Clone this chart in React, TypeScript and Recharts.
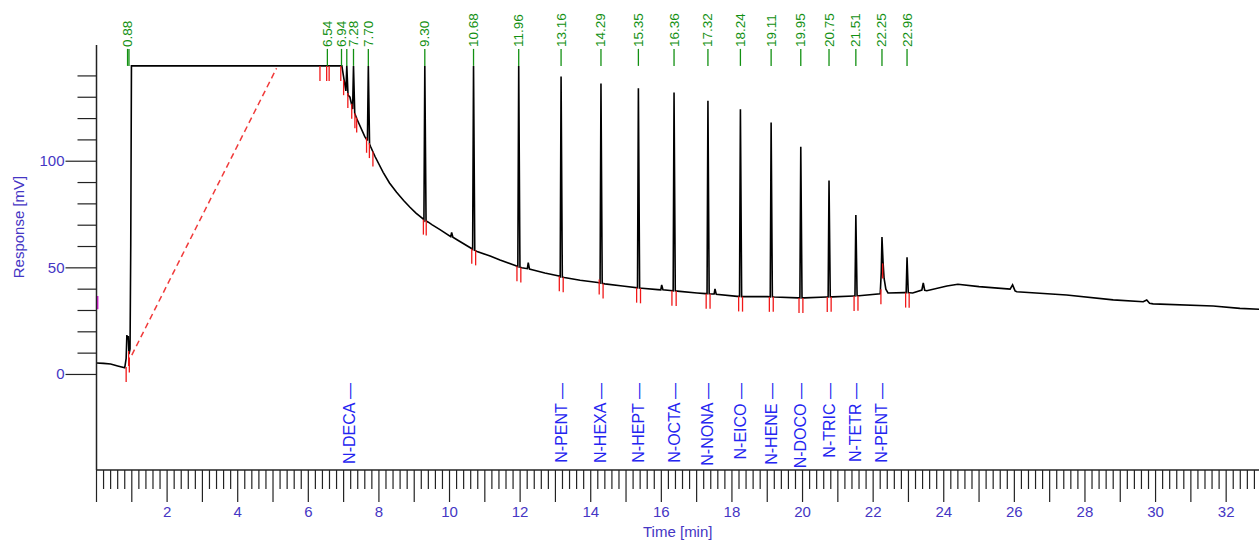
import React from 'react';
import { ComposedChart, Line, Scatter, XAxis, YAxis, ReferenceLine } from 'recharts';

// ---- chromatogram backbone (baseline / solvent front / drift)
const traceTimes = [
  0.0, 0.2, 0.4, 0.6, 0.8, 0.84, 0.86, 0.88, 0.9, 0.92, 0.95, 0.97, 0.99,
  6.95, 7.0, 7.04, 7.18, 7.37, 7.6, 7.66, 7.76, 7.89, 8.12, 8.3, 8.5, 8.7, 8.88, 9.05, 9.25, 9.4,
  9.5, 9.73, 10.2, 10.6, 10.78, 11.15, 11.43, 11.88, 12.05, 12.37, 12.7, 13.1, 13.25,
  13.7, 14.2, 14.4, 14.9, 15.45, 15.9, 16.25, 16.45, 17.01, 17.25, 17.45, 18.15,
  18.35, 19.0, 19.2, 19.88, 20.05, 20.68, 20.85, 21.45, 21.6, 22.2, 22.23, 22.25,
  22.28, 22.31, 22.36, 22.42, 22.88, 23.03, 23.12, 23.38, 23.42, 23.46, 23.52,
  24.09, 24.4, 25.0, 25.88, 25.95, 26.02, 26.07, 27.48, 28.8, 29.65, 29.75, 29.83,
  29.93, 31.63, 32.39, 32.93,
];
const traceValues = [
  5.4, 5.2, 4.9, 4.0, 3.1, 7.5, 18.5, 16.5, 18, 9.5, 12, 60, 144.7,
  144.7, 139.5, 135.5, 130, 120, 111.5, 110, 107, 102.2, 94.8, 89.8, 85.4, 81.6, 78.4, 75.7, 73, 71.4,
  70.3, 67.9, 63.3, 59.3, 57.7, 55.5, 53.7, 51, 50, 49, 47.6, 46.2, 45.5,
  44.2, 43.1, 42.5, 41.5, 40.4, 39.8, 39.4, 39.1, 38.2, 37.9, 37.7, 36.6,
  36.5, 36.5, 36.3, 35.9, 35.9, 36.3, 36.4, 36.8, 36.9, 37.8, 48, 64.4,
  53, 45, 40, 38.2, 38.4, 38.3, 38.2, 39.6, 42.9, 39.5, 39.3,
  41.5, 42.3, 41.2, 40, 42, 39.2, 38.8, 37.3, 35, 34.1, 34.9, 33.4,
  33.1, 32.1, 31, 30.6,
];

// ---- sharp peaks: retention time, baseline before, apex, baseline after (mV)
const spikeTimes = [7.09, 7.28, 7.7, 9.3, 10.06, 10.68, 11.96, 12.23, 13.16, 14.29, 15.35, 16.01, 16.36, 17.32, 17.52, 18.24, 19.11, 19.95, 20.75, 21.51, 22.96];
const spikeStart = [133, 124.5, 110, 72.4, 64.6, 58.6, 50.5, 49.6, 45.9, 42.9, 40.6, 39.7, 39.2, 37.9, 37.7, 36.6, 36.4, 35.9, 36.3, 36.8, 38.4];
const spikeApex = [144.7, 144.7, 144.7, 144.7, 66.6, 144.7, 144.7, 52.4, 139.7, 136.5, 134.2, 42.0, 132.2, 128.3, 40.1, 124.4, 118.1, 106.8, 90.9, 74.8, 55];
const spikeEnd = [131, 122.5, 108, 72.0, 64.4, 58.2, 50.3, 49.4, 45.7, 42.7, 40.5, 39.7, 39.2, 37.8, 37.6, 36.5, 36.4, 35.9, 36.4, 36.9, 38.3];

// ---- retention time annotations (green)
const rtTimes = [0.88, 0.92, 6.54, 6.94, 7.09, 7.28, 7.7, 9.3, 10.68, 11.96, 13.16, 14.29, 15.35, 16.36, 17.32, 18.24, 19.11, 19.95, 20.75, 21.51, 22.25, 22.96];
const rtLabels = ['0.88', '', '6.54', '6.94', '', '7.28', '7.70', '9.30', '10.68', '11.96', '13.16', '14.29', '15.35', '16.36', '17.32', '18.24', '19.11', '19.95', '20.75', '21.51', '22.25', '22.96'];
const SATURATION = 144.7;

// ---- integration markers (red)
const markTimes = [0.84, 0.91, 0.93, 6.33, 6.52, 6.59, 6.92, 7.0, 7.12, 7.23, 7.32, 7.37, 7.65, 7.73, 7.83,
  9.26, 9.34, 10.63, 10.74, 11.91, 12.02, 13.11, 13.22, 14.24, 14.35, 15.3, 15.41, 16.3, 16.42, 17.27, 17.38,
  18.19, 18.3, 19.06, 19.17, 19.9, 20.01, 20.7, 20.81, 21.46, 21.57, 22.22, 22.27, 22.92, 23.02];
const markValues = [3.5, 11, 8, 144.7, 144.7, 144.7, 144.7, 138, 132, 127, 122.5, 120.5, 111, 108.5, 104.5,
  72.6, 72.2, 58.9, 58.2, 50.8, 50.2, 46, 45.6, 44.5, 42.6, 40.7, 40.4, 39.3, 39.1, 37.9, 37.8,
  36.6, 36.5, 36.4, 36.4, 35.9, 35.9, 36.3, 36.4, 36.8, 36.9, 40, 52, 38.4, 38.3];

// ---- compound names (blue)
const compoundNames = ['N-DECA', 'N-PENT', 'N-HEXA', 'N-HEPT', 'N-OCTA', 'N-NONA', 'N-EICO', 'N-HENE', 'N-DOCO', 'N-TRIC', 'N-TETR', 'N-PENT'];
const compoundTimes = [7.18, 13.16, 14.29, 15.35, 16.36, 17.32, 18.24, 19.11, 19.95, 20.75, 21.51, 22.25];

// ---- axes
const xTicks = Array.from({ length: 165 }, (_, i) => Math.round(i * 2) / 10);
const yTicks = [0, 10, 20, 30, 40, 50, 60, 70, 80, 90, 100, 110, 120, 130, 140];
const yLabelTicks = [0, 50, 100];

// build trace table
const trace: { t: number; v: number }[] = traceTimes.map((t, i) => ({ t, v: traceValues[i] }));
spikeTimes.forEach((t, i) => {
  trace.push({ t: t - 0.025, v: spikeStart[i] });
  trace.push({ t, v: spikeApex[i] });
  trace.push({ t: t + 0.035, v: spikeEnd[i] });
});
trace.sort((a, b) => a.t - b.t);

const rtData = rtTimes.map((t, i) => ({ t, v: SATURATION, label: rtLabels[i] }));
const markData = markTimes.map((t, i) => ({ t, v: markValues[i] }));

const FONT = '"Liberation Sans", Arial, sans-serif';
const AXIS_TEXT = '#4536c4';
const AXIS_LINE = '#222';
const GREEN = '#129012';
const BLUE = '#2424f0';
const RED = '#f01818';

const XTick = (props: any) => {
  const { x, y, payload } = props;
  const v = payload.value as number;
  const isInt = Math.abs(v - Math.round(v)) < 1e-6;
  const len = isInt ? 32 : 19;
  const show = isInt && Math.round(v) % 2 === 0 && v > 0;
  return (
    <g>
      <line x1={x} x2={x} y1={y} y2={y + len} stroke={AXIS_LINE} strokeWidth={1.2} />
      {show && (
        <text x={x} y={y + 47} textAnchor="middle" fontSize={15} fontFamily={FONT} fill={AXIS_TEXT}>
          {Math.round(v)}
        </text>
      )}
    </g>
  );
};

const YTick = (props: any) => {
  const { x, y, payload } = props;
  const v = payload.value as number;
  const lab = yLabelTicks.includes(v);
  const len = lab ? 31 : 19;
  return (
    <g>
      <line x1={x} x2={x - len} y1={y} y2={y} stroke={AXIS_LINE} strokeWidth={1.2} />
      {lab && (
        <text x={x - len - 1} y={y + 5} textAnchor="end" fontSize={15} fontFamily={FONT} fill={AXIS_TEXT}>
          {v}
        </text>
      )}
    </g>
  );
};

const RtShape = (props: any) => {
  const { cx, cy, payload } = props;
  const top = cy - 17;
  return (
    <g>
      <line x1={cx} x2={cx} y1={cy} y2={top} stroke={GREEN} strokeWidth={1.3} />
      {payload.label && (
        <text
          x={cx}
          y={top - 2}
          transform={`rotate(-90 ${cx} ${top - 2})`}
          textAnchor="start"
          dominantBaseline="central"
          fontSize={13.5}
          fontFamily={FONT}
          fill={GREEN}
        >
          {payload.label}
        </text>
      )}
    </g>
  );
};

const MarkShape = (props: any) => {
  const { cx, cy } = props;
  return <line x1={cx} x2={cx} y1={cy} y2={cy + 15} stroke={RED} strokeWidth={1.3} />;
};

const compoundLabel = (name: string) => (p: any) => {
  const x = p.viewBox.x;
  const y = 383;
  return (
    <text
      x={x}
      y={y}
      transform={`rotate(-90 ${x} ${y})`}
      textAnchor="end"
      dominantBaseline="central"
      fontSize={16}
      fontFamily={FONT}
      fill={BLUE}
    >
      {name + ' \u2014'}
    </text>
  );
};

export default function App() {
  return (
    <div style={{ position: 'absolute', left: 0, top: 0, width: 1259, height: 542, background: '#fff' }}>
      <ComposedChart width={1259} height={542} margin={{ top: 45, right: 0, bottom: 0, left: 0 }}>
        <XAxis
          type="number"
          dataKey="t"
          domain={[0, 32.93]}
          ticks={xTicks}
          interval={0}
          height={72}
          tickSize={0}
          tickMargin={0}
          tickLine={false}
          tick={<XTick />}
          axisLine={{ stroke: AXIS_LINE, strokeWidth: 1.5 }}
          label={(p: any) => (
            <text
              x={p.viewBox.x + p.viewBox.width / 2}
              y={p.viewBox.y + 67}
              textAnchor="middle"
              fontSize={15}
              fontFamily={FONT}
              fill={AXIS_TEXT}
            >
              Time [min]
            </text>
          )}
        />
        <YAxis
          type="number"
          domain={[-44.8, 154.5]}
          ticks={yTicks}
          interval={0}
          width={96.5}
          tickSize={0}
          tickMargin={0}
          tickLine={false}
          tick={<YTick />}
          axisLine={{ stroke: AXIS_LINE, strokeWidth: 1.5 }}
          label={() => (
            <text
              x={18}
              y={227}
              transform="rotate(-90 18 227)"
              textAnchor="middle"
              dominantBaseline="central"
              fontSize={15}
              fontFamily={FONT}
              fill={AXIS_TEXT}
            >
              Response [mV]
            </text>
          )}
        />
        <ReferenceLine
          segment={[{ x: 1.0, y: 9.1 }, { x: 5.1, y: 143.6 }]}
          stroke="#f03a3a"
          strokeWidth={1.5}
          strokeDasharray="6 4"
          ifOverflow="visible"
        />
        <ReferenceLine
          segment={[{ x: 0.02, y: 30.6 }, { x: 0.02, y: 36.8 }]}
          stroke="#e020e0"
          strokeWidth={2.5}
          ifOverflow="visible"
        />
        {compoundTimes.map((t, i) => (
          <ReferenceLine key={'c' + i} x={t} stroke="none" label={compoundLabel(compoundNames[i])} />
        ))}
        <Line
          data={trace}
          dataKey="v"
          type="linear"
          stroke="#000"
          strokeWidth={1.6}
          dot={false}
          activeDot={false}
          isAnimationActive={false}
        />
        <Scatter data={markData} dataKey="v" shape={<MarkShape />} isAnimationActive={false} />
        <Scatter data={rtData} dataKey="v" shape={<RtShape />} isAnimationActive={false} />
      </ComposedChart>
    </div>
  );
}
